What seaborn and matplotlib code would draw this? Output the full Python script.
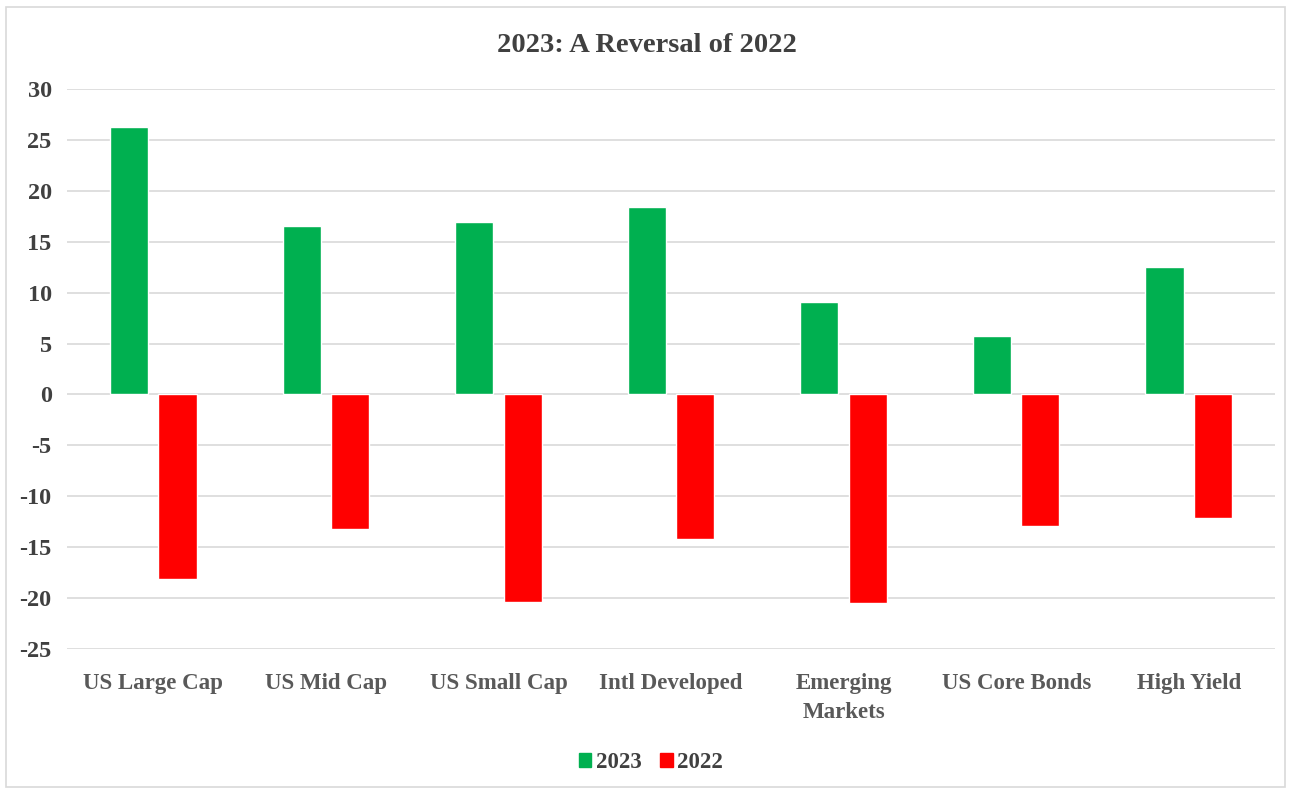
import matplotlib
matplotlib.use("Agg")
import matplotlib.pyplot as plt
import seaborn as sns
import pandas as pd
from matplotlib.patches import Rectangle

categories = ["US Large Cap", "US Mid Cap", "US Small Cap", "Intl Developed",
              "Emerging\nMarkets", "US Core Bonds", "High Yield"]
values_2023 = [26.3, 16.5, 16.9, 18.4, 9.1, 5.7, 12.5]
values_2022 = [-18.1, -13.2, -20.4, -14.2, -20.5, -12.9, -12.1]
series = ["2023", "2022"]
yticks = list(range(-25, 31, 5))

df = pd.DataFrame({
    "category": categories * 2,
    "value": values_2023 + values_2022,
    "year": ["2023"] * len(categories) + ["2022"] * len(categories),
})

sns.set_theme(style="white")
plt.rcParams["font.family"] = ["Liberation Serif", "DejaVu Serif"]
plt.rcParams["font.weight"] = "bold"

fig = plt.figure(figsize=(12.94, 7.91), dpi=100)
ax = fig.add_axes([67/1294, 1 - 649/791, (1275-67)/1294, (649-89)/791])

palette = {"2023": "#00B050", "2022": "#FF0000"}
sns.barplot(data=df, x="category", y="value", hue="year", hue_order=series,
            palette=palette, width=0.56, gap=0.21, ax=ax, saturation=1,
            legend=False)

ax.set_ylim(-25, 30)
ax.set_xlim(-0.5, len(categories) - 0.5)
ax.set_yticks(yticks)
ax.set_yticklabels([str(t) for t in yticks], fontsize=17.5, fontweight="bold", color="#404040")
ax.tick_params(axis="x", labelsize=16.5, labelcolor="#595959", length=0, pad=17)
ax.tick_params(axis="y", length=0, pad=11)
for lab in ax.get_xticklabels():
    lab.set_fontweight("bold")
    lab.set_linespacing(1.5)
ax.yaxis.grid(True, color="#D9D9D9", linewidth=1.2)
ax.set_axisbelow(True)
for s in ax.spines.values():
    s.set_visible(False)
ax.set_xlabel("")
ax.set_ylabel("")

fig.text(647/1294, 1 - 45/791, "2023: A Reversal of 2022", ha="center", va="center",
         fontsize=20.5, fontweight="bold", color="#404040")

handles = [Rectangle((0, 0), 1, 1, color=palette[s]) for s in series]
fig.legend(handles, series, loc="center", bbox_to_anchor=(651/1294, 1 - 763/791),
           ncol=2, frameon=False, fontsize=16.5, handlelength=0.55, handleheight=0.55,
           handletextpad=0.2, columnspacing=0.8, labelcolor="#404040")

border = Rectangle((6/1294, 1 - 787/791), (1285-6)/1294, (787-7)/791,
                   transform=fig.transFigure, fill=False, edgecolor="#D9D9D9",
                   linewidth=1.2)
fig.add_artist(border)

fig.savefig("out.png", dpi=100, facecolor="white")
